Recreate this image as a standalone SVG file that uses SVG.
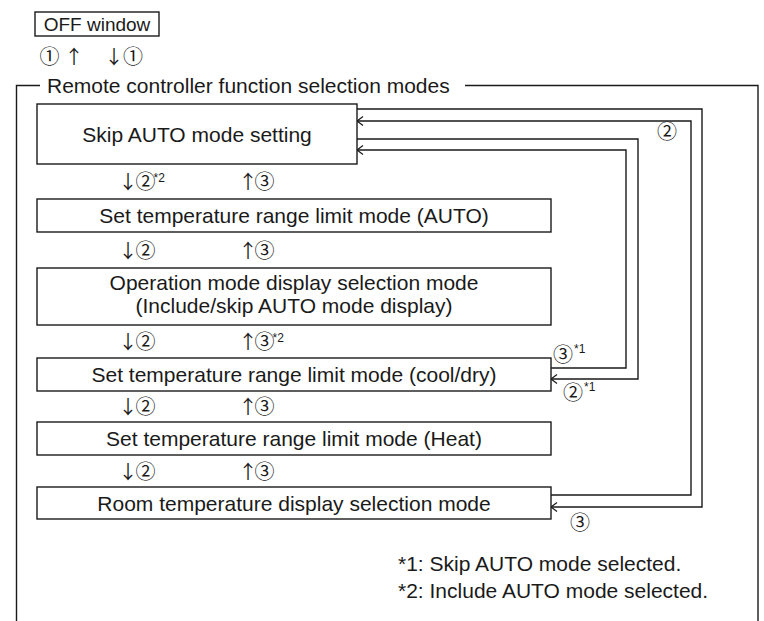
<svg xmlns="http://www.w3.org/2000/svg" width="764" height="621" viewBox="0 0 764 621">
<defs>
<style>
.bx{fill:#fff;stroke:#1a1a1a;stroke-width:1.4}
.ln{fill:none;stroke:#1a1a1a;stroke-width:1.4}
.t{font-family:"Liberation Sans",Arial,sans-serif;font-size:21px;fill:#1a1a1a}
.k{font-family:"Noto Sans CJK JP",sans-serif;font-size:19px;fill:#1a1a1a}
.c{font-size:20px}
.s{font-family:"Liberation Sans",Arial,sans-serif;font-size:12px}
</style>
<marker id="arr" markerUnits="userSpaceOnUse" markerWidth="12" markerHeight="12" refX="0" refY="0" viewBox="-10 -6 12 12" orient="auto" overflow="visible">
<path d="M-6,-4.5 L0,0 L-6,4.5" fill="none" stroke="#1a1a1a" stroke-width="1.2"/>
</marker>
</defs>
<rect width="764" height="621" fill="#fff"/>

<g id="off-window">
<rect class="bx" x="35" y="12" width="124" height="24"/>
<text class="t" x="97" y="31" text-anchor="middle" style="font-size:19px">OFF window</text>
</g>
<g id="off-keys">
<text class="k c" x="39.5" y="63.5">①</text>
<text class="k" x="64.5" y="63.5">↑</text>
<text class="k" x="104.5" y="63.5"><tspan style="letter-spacing:-0.5px">↓</tspan><tspan class="c">①</tspan></text>
</g>

<g id="frame">
<path class="ln" d="M40,85.5 H16.5 V621 M465,85.5 H758 V621"/>
<text class="t" x="47" y="93">Remote controller function selection modes</text>
</g>

<g id="connectors">
<path class="ln" d="M357,109 H702 V507 H551" marker-end="url(#arr)"/>
<path class="ln" d="M551,495 H691 V121 H357" marker-end="url(#arr)"/>
<path class="ln" d="M357,139 H638 V379 H551" marker-end="url(#arr)"/>
<path class="ln" d="M551,368 H626 V150 H357" marker-end="url(#arr)"/>
<text class="k c" x="657" y="138.5">②</text>
<text class="k" x="553" y="361.5"><tspan class="c" style="letter-spacing:1px">③</tspan><tspan class="s" dy="-8.5">*1</tspan></text>
<text class="k" x="563" y="399.5"><tspan class="c" style="letter-spacing:1px">②</tspan><tspan class="s" dy="-8.5">*1</tspan></text>
<text class="k c" x="570" y="529.5">③</text>
</g>

<g id="skip-auto">
<rect class="bx" x="37" y="104" width="320" height="60"/>
<text class="t" x="197" y="142" text-anchor="middle">Skip AUTO mode setting</text>
</g>
<g id="row1">
<text class="k" x="118.5" y="188.5"><tspan style="letter-spacing:-2px">↓</tspan><tspan class="c" style="letter-spacing:-2px">②</tspan><tspan class="s" dy="-7">*2</tspan></text>
<text class="k" x="238.5" y="188.5"><tspan style="letter-spacing:-3px">↑</tspan><tspan class="c">③</tspan></text>
</g>

<g id="temp-auto">
<rect class="bx" x="37" y="199" width="514" height="33"/>
<text class="t" x="294" y="223" text-anchor="middle">Set temperature range limit mode (AUTO)</text>
</g>
<g id="row2">
<text class="k" x="118.5" y="257.5"><tspan style="letter-spacing:-2px">↓</tspan><tspan class="c">②</tspan></text>
<text class="k" x="238.5" y="257.5"><tspan style="letter-spacing:-3px">↑</tspan><tspan class="c">③</tspan></text>
</g>

<g id="op-mode-display">
<rect class="bx" x="37" y="268" width="514" height="57"/>
<text class="t" x="294" y="290" text-anchor="middle">Operation mode display selection mode</text>
<text class="t" x="294" y="313" text-anchor="middle">(Include/skip AUTO mode display)</text>
</g>
<g id="row3">
<text class="k" x="118.5" y="348.5"><tspan style="letter-spacing:-2px">↓</tspan><tspan class="c">②</tspan></text>
<text class="k" x="238.5" y="348.5"><tspan style="letter-spacing:-3px">↑</tspan><tspan class="c" style="letter-spacing:-2px">③</tspan><tspan class="s" dy="-7">*2</tspan></text>
</g>

<g id="temp-cool-dry">
<rect class="bx" x="37" y="358" width="514" height="33"/>
<text class="t" x="294" y="382" text-anchor="middle">Set temperature range limit mode (cool/dry)</text>
</g>
<g id="row4">
<text class="k" x="118.5" y="414"><tspan style="letter-spacing:-2px">↓</tspan><tspan class="c">②</tspan></text>
<text class="k" x="238.5" y="414"><tspan style="letter-spacing:-3px">↑</tspan><tspan class="c">③</tspan></text>
</g>

<g id="temp-heat">
<rect class="bx" x="37" y="422" width="514" height="33"/>
<text class="t" x="294" y="446" text-anchor="middle">Set temperature range limit mode (Heat)</text>
</g>
<g id="row5">
<text class="k" x="118.5" y="478.5"><tspan style="letter-spacing:-2px">↓</tspan><tspan class="c">②</tspan></text>
<text class="k" x="238.5" y="478.5"><tspan style="letter-spacing:-3px">↑</tspan><tspan class="c">③</tspan></text>
</g>

<g id="room-temp">
<rect class="bx" x="37" y="487" width="514" height="32"/>
<text class="t" x="294" y="511" text-anchor="middle">Room temperature display selection mode</text>
</g>

<g id="notes">
<text class="t" x="398" y="571">*1: Skip AUTO mode selected.</text>
<text class="t" x="398" y="598">*2: Include AUTO mode selected.</text>
</g>
</svg>
